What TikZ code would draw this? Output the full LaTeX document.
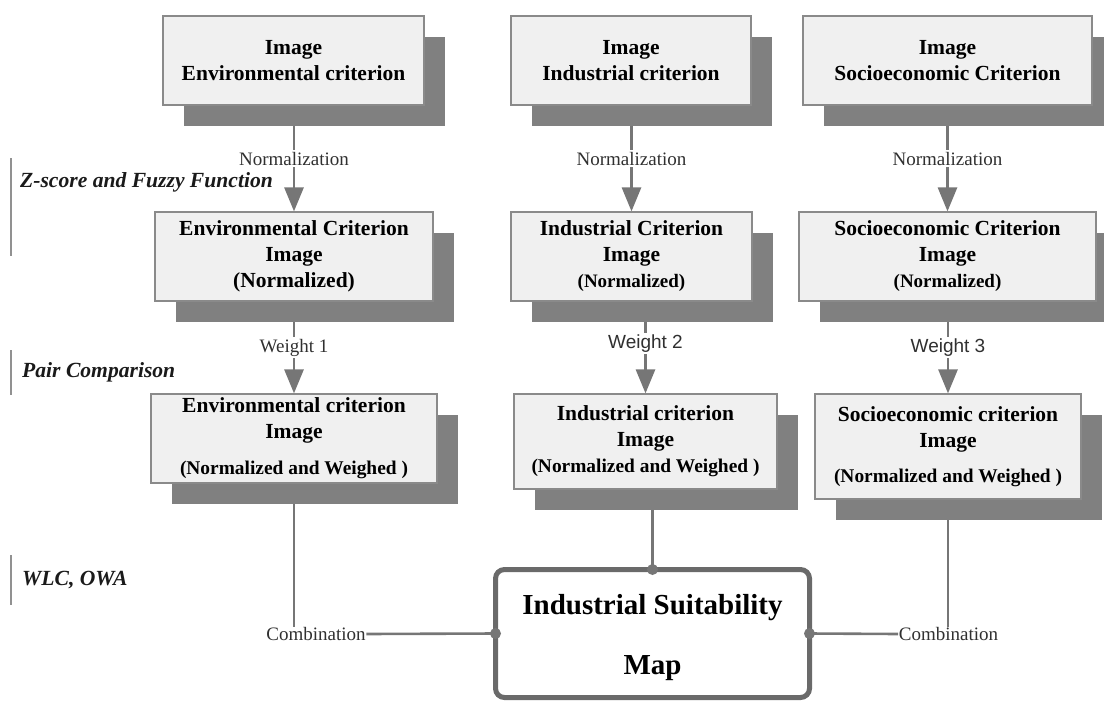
\documentclass[tikz,border=0pt]{standalone}
\usepackage{fontspec}
\setmainfont{Liberation Serif}
\newfontfamily\arialfont{Liberation Sans}
\usetikzlibrary{arrows.meta,shadows,backgrounds}
\definecolor{boxfill}{HTML}{F0F0F0}
\definecolor{boxline}{HTML}{8A8A8A}
\definecolor{shadowgray}{HTML}{808080}
\definecolor{linegray}{HTML}{767676}
\definecolor{finalgray}{HTML}{6A6A6A}
\definecolor{labelgray}{HTML}{303030}
\definecolor{sidetext}{HTML}{1A1A1A}
\begin{document}
\begin{tikzpicture}[x=1pt,y=-1pt,
  critbox/.style={draw=boxline, line width=1.2pt, fill=boxfill, align=center,
    inner sep=0pt, minimum height=89pt,
    font=\fontsize{21.5}{26}\selectfont\bfseries,
    general shadow={shadow xshift=21pt, shadow yshift=-21pt, fill=shadowgray}},
  finalbox/.style={draw=finalgray, line width=5pt, rounded corners=9pt, fill=white,
    outer sep=0pt, align=center, inner sep=0pt, minimum width=314pt, minimum height=128pt,
    font=\fontsize{29}{35}\selectfont\bfseries},
  flowarrow/.style={draw=linegray, line width=2.8pt, -{Triangle[width=19pt,length=24pt]}},
  conn/.style={draw=linegray, line width=2.6pt},
  lab/.style={fill=white, inner sep=1.5pt, text=labelgray, font=\fontsize{19}{22}\selectfont},
  comblab/.style={inner sep=0.5pt, text=labelgray, font=\fontsize{19}{22}\selectfont},
  sidelab/.style={anchor=west, inner sep=0pt, text=sidetext, font=\fontsize{21.6}{26}\selectfont\bfseries\itshape},
  sidebar/.style={draw=linegray!80, line width=1.3pt}
]
\clip (0,0) rectangle (1104,702);
\useasboundingbox (0,0) rectangle (1104,702);

% row 1
\node[critbox, minimum width=261pt] (r1b1) at (293.5,60.5) {Image\\Environmental criterion};
\node[critbox, minimum width=240pt] (r1b2) at (631,60.5) {Image\\Industrial criterion};
\node[critbox, minimum width=289pt] (r1b3) at (947.5,60.5) {Image\\Socioeconomic Criterion};

% row 2
\node[critbox, minimum width=278pt] (r2b1) at (294,256.5) {Environmental Criterion\\Image\\(Normalized)};
\node[critbox, minimum width=241pt] (r2b2) at (631.5,256.5) {Industrial Criterion\\Image\\{\fontsize{19}{26}\selectfont (Normalized)}};
\node[critbox, minimum width=297pt] (r2b3) at (947.5,256.5) {Socioeconomic Criterion\\Image\\{\fontsize{19}{26}\selectfont (Normalized)}};

% row 3
\node[critbox, minimum width=286pt] (r3b1) at (294,438.5) {Environmental criterion\\Image\\[10pt]{\fontsize{19.4}{26}\selectfont (Normalized and Weighed )}};
\node[critbox, minimum width=263pt, minimum height=95pt] (r3b2) at (645.5,441.5) {Industrial criterion\\Image\\{\fontsize{19.4}{26}\selectfont (Normalized and Weighed )}};
\node[critbox, minimum width=266pt, minimum height=105pt] (r3b3) at (948,446.5) {Socioeconomic criterion\\Image\\[9pt]{\fontsize{19.4}{26}\selectfont (Normalized and Weighed )}};

% final
\node[finalbox] (final) at (652.5,633.5) {\rule{0pt}{28pt}Industrial Suitability\\[25pt]Map};

% combination labels
\node[comblab] (comb1) at (316,634) {Combination};
\node[comblab] (comb2) at (948.5,634) {Combination};

% side labels
\node[sidelab] (s1) at (20,182) {Z-score and Fuzzy Function};
\node[sidelab] (s2) at (22,372) {Pair Comparison};
\node[sidelab] (s3) at (22,580) {WLC, OWA};
\draw[sidebar] (11,158) -- (11,256);
\draw[sidebar] (11,350) -- (11,395);
\draw[sidebar] (11,555) -- (11,605);

\begin{scope}[on background layer]
\draw[flowarrow] (r2b1.north |- r1b1.south) -- node[lab]{Normalization} (r2b1.north);
\draw[flowarrow] (r2b2.north |- r1b2.south) -- node[lab]{Normalization} (r2b2.north);
\draw[flowarrow] (r2b3.north |- r1b3.south) -- node[lab]{Normalization} (r2b3.north);
\draw[flowarrow] (r3b1.north |- r2b1.south) -- node[lab]{Weight 1} (r3b1.north);
\draw[flowarrow] (r3b2.north |- r2b2.south) -- node[lab, font=\arialfont\fontsize{19}{22}\selectfont, yshift=4pt]{Weight 2} (r3b2.north);
\draw[flowarrow] (r3b3.north |- r2b3.south) -- node[lab, font=\arialfont\fontsize{19}{22}\selectfont]{Weight 3} (r3b3.north);
\draw[conn] (r3b1.south) -- (r3b1.south |- comb1.north);
\draw[conn] (comb1.east) -- (final.west);
\draw[conn] (final.north |- r3b2.south) -- (final.north);
\draw[conn] (r3b3.south) -- (r3b3.south |- comb2.north);
\draw[conn] (comb2.west) -- (final.east);
\end{scope}

% junction dots
\fill[linegray] (final.west) circle (5.5pt);
\fill[linegray] (final.north) circle (5.5pt);
\fill[linegray] (final.east) circle (5.5pt);
\end{tikzpicture}
\end{document}
